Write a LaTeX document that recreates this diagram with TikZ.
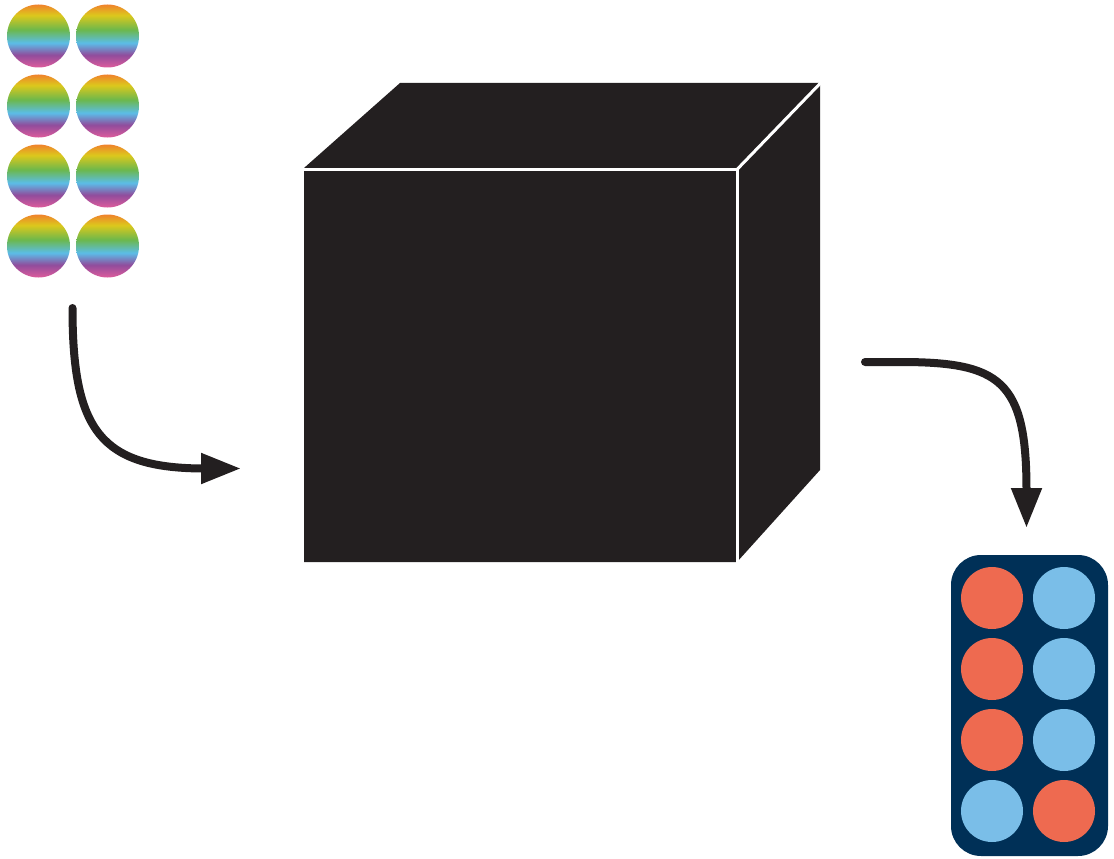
\documentclass[tikz,border=0pt]{standalone}
\usetikzlibrary{arrows.meta}
\definecolor{ink}{HTML}{231F20}
\definecolor{navy}{HTML}{003057}
\definecolor{dotred}{HTML}{EE6A50}
\definecolor{dotblue}{HTML}{7ABEE8}
\definecolor{rbOrange}{HTML}{F0822C}
\definecolor{rbYellow}{HTML}{DCC81C}
\definecolor{rbGreen}{HTML}{6CB84C}
\definecolor{rbCyan}{HTML}{5BBDE8}
\definecolor{rbPurple}{HTML}{904C9C}
\definecolor{rbPink}{HTML}{DE5C9C}
\pgfdeclareverticalshading{rainbow}{100bp}{color(0bp)=(rbPink); color(25bp)=(rbPink); color(35bp)=(rbPurple); color(44.5bp)=(rbCyan); color(55bp)=(rbGreen); color(66.5bp)=(rbYellow); color(75bp)=(rbOrange); color(100bp)=(rbOrange)}
\tikzset{
  rainbowdot/.style={circle, minimum size=63pt, inner sep=0pt, shading=rainbow},
  reddot/.style={circle, minimum size=62pt, inner sep=0pt, fill=dotred},
  bluedot/.style={circle, minimum size=62pt, inner sep=0pt, fill=dotblue},
  flow/.style={draw=ink, line width=8pt, line cap=round, -{Triangle[length=40pt,width=29pt]}},
}
\begin{document}
\begin{tikzpicture}[x=1pt,y=-1pt]
\useasboundingbox (0,0) rectangle (1114,859);
% rainbow input dots
\foreach \r/\yy in {1/36,2/106,3/176,4/246}{
  \node[rainbowdot] (in\r a) at (38.5,\yy) {};
  \node[rainbowdot] (in\r b) at (107.5,\yy) {};
}
% black box cube
\fill[ink] (304,168) -- (400,83) -- (820,83) -- (820,470) -- (737,562) -- (304,562) -- cycle;
\draw[white, line width=3pt] (300,169.5) -- (737,169.5) -- (737,566);
\draw[white, line width=3pt] (737,169.5) -- (822,81.5);
\node[inner sep=0pt, minimum width=432pt, minimum height=392pt] (box) at (520,366) {};
% output tray
\node[draw=none, fill=navy, rounded corners=30pt, minimum width=157pt, minimum height=301pt, inner sep=0pt] (tray) at (1029.5,705.5) {};
\foreach \r/\yy/\ca/\cb in {1/598/reddot/bluedot,2/669/reddot/bluedot,3/740/reddot/bluedot,4/811/bluedot/reddot}{
  \node[\ca] (out\r a) at (992,\yy) {};
  \node[\cb] (out\r b) at (1064,\yy) {};
}
% arrows
\coordinate (a1s) at (72.5,308);
\coordinate (a1e) at (241,468.5);
\coordinate (a2s) at (865,362);
\coordinate (a2e) at (1026.5,528);
\draw[flow] (a1s) .. controls (72.5,430) and (100,468.5) .. (205,468.5) -- (a1e);
\draw[flow] (a2s) -- (900,362) .. controls (1000,362) and (1026.5,380) .. (1026.5,490) -- (a2e);
\end{tikzpicture}
\end{document}
